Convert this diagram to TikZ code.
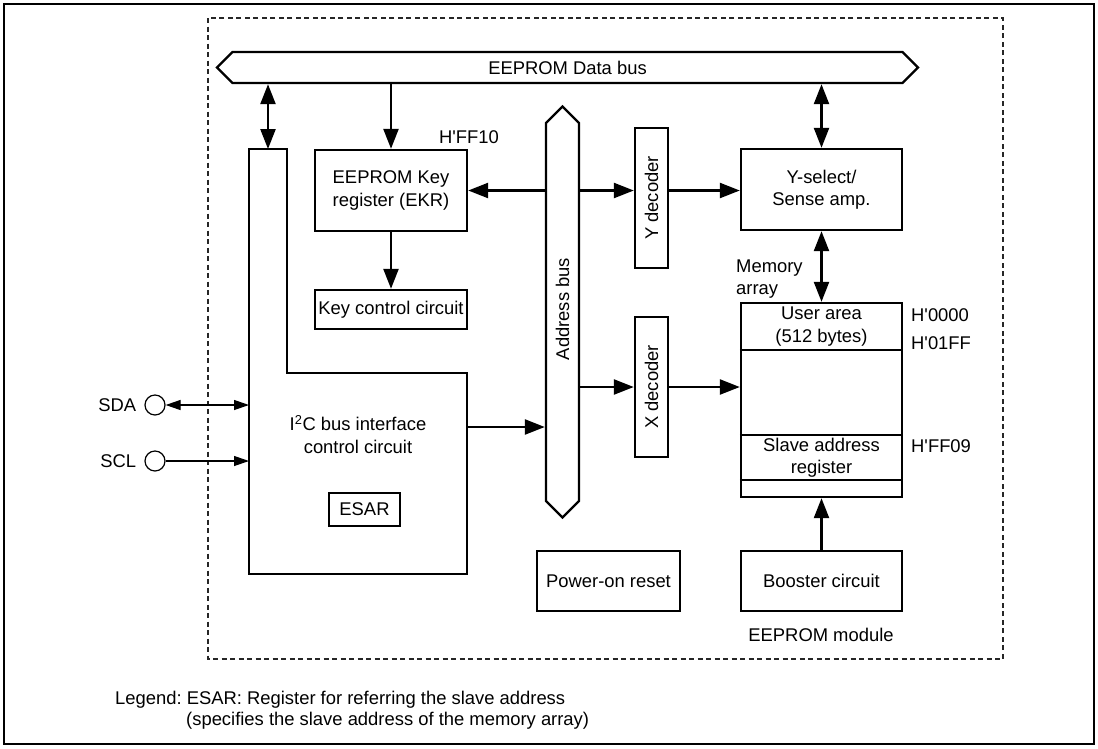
\documentclass[tikz,border=0pt]{standalone}
\usepackage{fontspec}
\setmainfont{Liberation Sans}
\usetikzlibrary{positioning,arrows.meta,shapes.symbols}
\frenchspacing

\begin{document}
\begin{tikzpicture}[x=1pt, y=-1pt,
    font=\fontsize{18.4}{22.5}\selectfont,
    box/.style={rectangle, draw=black, line width=2.4pt, inner sep=0pt, align=center},
    bus/.style={signal, draw=black, line width=2.4pt, inner sep=0pt, signal pointer angle=90},
    txt/.style={inner sep=0pt, align=center},
    arr/.style={line width=2.4pt, -{Triangle[length=20pt,width=15pt]}},
    dbl/.style={line width=2.4pt, {Triangle[length=20pt,width=15pt]}-{Triangle[length=20pt,width=15pt]}},
    thinarr/.style={line width=1.2pt, -{Triangle[length=15pt,width=10pt]}},
    thindbl/.style={line width=1.2pt, {Triangle[length=15pt,width=10pt]}-{Triangle[length=15pt,width=10pt]}},
    pin/.style={circle, draw=black, line width=1.2pt, minimum size=20pt, inner sep=0pt}
]
\useasboundingbox (0,0) rectangle (1098,748);
\draw[line width=1.5pt] (4,4) rectangle (1094,744);
\draw[black!85, line width=1.2pt, dash pattern=on 5pt off 3.5pt] (208,18) rectangle (1003,659);

% buses
\node[bus, signal to=east and west, minimum width=701pt, minimum height=31pt] (dbus) at (567.5,67.5) {EEPROM Data bus};
\node[bus, signal to=north and south, minimum width=33pt, minimum height=378pt] (abus) at (562.5,312) {};
\node[txt, rotate=90] (abustxt) at (562.5,309) {Address bus};

% I2C block
\coordinate (i2ctl) at (249,149);
\coordinate (i2ctr) at (287,149);
\coordinate (i2cnotch) at (287,373);
\coordinate (i2cshoulder) at (467,373);
\coordinate (i2cbr) at (467,574);
\coordinate (i2cbl) at (249,574);
\coordinate (i2ctop) at (268,149);
\coordinate (i2cout) at (467,427);
\draw[line width=2.4pt, line join=miter] (i2ctl) -- (i2ctr) -- (i2cnotch) -- (i2cshoulder) -- (i2cbr) -- (i2cbl) -- cycle;
\node[txt] (i2ctxt) at (358,434.5) {I\textsuperscript{2}C bus interface\\control circuit};
\node[box, minimum width=71pt, minimum height=33pt] (esar) at (364.5,509.5) {ESAR};

\node[pin] (sda) at (155,405) {};
\node[txt, left=8pt of sda] (sdatxt) {SDA};
\node[pin] (scl) at (155,461) {};
\node[txt, left=8pt of scl] (scltxt) {SCL};

% key register
\node[box, minimum width=152pt, minimum height=81pt] (ekr) at (391,190.5) {EEPROM Key\\register (EKR)};
\node[txt] (hff10) at (469,137) {H\textquotesingle FF10};
\node[box, minimum width=152pt, minimum height=39pt] (keyctl) at (391,309.5) {Key control circuit};

% decoders
\node[box, minimum width=33pt, minimum height=140pt] (ydec) at (651.5,198) {};
\node[txt, rotate=90] (ydectxt) at (ydec) {Y decoder};
\node[box, minimum width=33pt, minimum height=140pt] (xdec) at (651.5,387) {};
\node[txt, rotate=90] (xdectxt) at (xdec) {X decoder};

% EEPROM module
\node[box, minimum width=161pt, minimum height=81pt] (ysel) at (821.5,189.5) {Y-select/\\Sense amp.};
\node[txt, align=left, anchor=west] (memtxt) at (736,279) {Memory\\array};
\node[box, minimum width=161pt, minimum height=194pt] (mem) at (821.5,400) {};
\draw[line width=2.4pt] (mem.west |- 0,350) -- (mem.east |- 0,350);
\draw[line width=2.4pt] (mem.west |- 0,435) -- (mem.east |- 0,435);
\draw[line width=2.4pt] (mem.west |- 0,480) -- (mem.east |- 0,480);
\node[txt] (user) at (821.5,326.5) {User area\\(512 bytes)};
\node[txt] (slave) at (821.5,457.5) {Slave address\\register};
\node[txt, anchor=west] (a0000) at (911,315) {H\textquotesingle 0000};
\node[txt, anchor=west] (a01ff) at (911,343) {H\textquotesingle 01FF};
\node[txt, anchor=west] (aff09) at (911,446) {H\textquotesingle FF09};
\node[box, minimum width=161pt, minimum height=60pt] (boost) at (821.5,581) {Booster circuit};
\node[txt] (modtxt) at (821,635) {EEPROM module};
\node[box, minimum width=143pt, minimum height=60pt] (por) at (608.5,581) {Power-on reset};

% connections
\draw[dbl] (dbus.south -| i2ctop) -- (i2ctop);
\draw[arr] (dbus.south -| ekr.north) -- (ekr.north);
\draw[dbl] (dbus.south -| ysel.north) -- (ysel.north);
\draw[arr] (ekr.south) -- (keyctl.north);
\draw[arr] (abus.west |- ekr.east) -- (ekr.east);
\draw[arr] (abus.east |- ekr.east) -- (ydec.west |- ekr.east);
\draw[arr] (ydec.east |- ekr.east) -- (ysel.west |- ekr.east);
\draw[arr] (abus.east |- xdec.west) -- (xdec.west);
\draw[arr] (xdec.east) -- (mem.west |- xdec.east);
\draw[arr] (i2cout) -- (abus.west |- i2cout);
\draw[dbl] (ysel.south) -- (mem.north);
\draw[arr] (boost.north) -- (mem.south);
\draw[thindbl] (sda.east) -- (sda.east -| i2cbl);
\draw[thinarr] (scl.east) -- (scl.east -| i2cbl);

\node[txt, anchor=base west] (legend1) at (115,704) {Legend: ESAR: Register for referring the slave address};
\node[txt, anchor=base west] (legend2) at (186,725) {(specifies the slave address of the memory array)};
\end{tikzpicture}
\end{document}
